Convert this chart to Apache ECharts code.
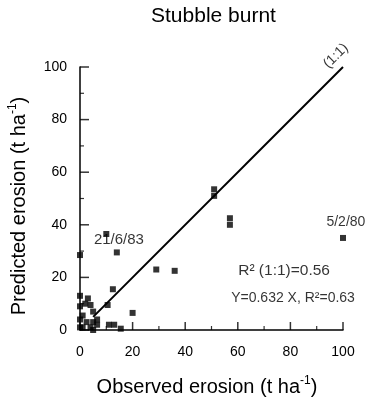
<!DOCTYPE html>
<html>
<head>
<meta charset="utf-8">
<script src="https://cdn.jsdelivr.net/npm/echarts@6/dist/echarts.min.js"></script>
<style>
  html, body { margin: 0; padding: 0; background: #fff; }
  #chart { width: 369px; height: 406px; }
</style>
</head>
<body>
<div id="chart"></div>
<script>
// observed vs predicted erosion, t/ha
const observed = [0, 10, 14, 29, 36, 12.5, 10.5, 20, 51, 51, 57, 57, 100, 11, 13, 15.5,
  0, 3, 0, 4, 5, 1, 0, 2.5, 5, 1, 4, 6.5, 5, 6.5, 0, 2];
const predicted = [28.5, 36.5, 29.5, 23, 22.5, 15.5, 9.5, 6.5, 53.5, 51, 42.5, 40, 35, 2, 2, 0.5,
  13, 12, 9, 9.5, 7, 5.5, 4, 3, 3, 1, 1, 4, 0, 2, 1, 10];
const oneToOneX = [5, 100];
const oneToOneY = [5, 100];
const axisTicks = [0, 20, 40, 60, 80, 100];
const minorTicks = [10, 30, 50, 70, 90];

const font = '"Liberation Sans", Arial, Helvetica, sans-serif';
const points = observed.map((x, i) => [x, predicted[i]]);

const myChart = echarts.init(document.getElementById('chart'));

const axisCommon = {
  type: 'value',
  min: axisTicks[0],
  max: axisTicks[axisTicks.length - 1],
  interval: 20,
  splitLine: { show: false },
  axisLine: { show: true, onZero: false, lineStyle: { color: '#000', width: 1.5 } },
  axisTick: { show: false },
  axisLabel: { color: '#000', fontSize: 14, fontFamily: font }
};

// inward tick marks drawn as thin rect symbols sitting on the axes
const tickMarks = [];
axisTicks.forEach(v => {
  tickMarks.push({ value: [v, 0], symbolSize: [1.5, 8], symbolOffset: [0, -4] });
  tickMarks.push({ value: [0, v], symbolSize: [9, 1.5], symbolOffset: [4.5, 0] });
});
minorTicks.forEach(v => {
  tickMarks.push({ value: [v, 0], symbolSize: [1.2, 4], symbolOffset: [0, -2] });
  tickMarks.push({ value: [0, v], symbolSize: [4, 1.2], symbolOffset: [2, 0] });
});

// axis titles drawn as graphic text (superscript via rich)
const nameStyle = {
  fill: '#000',
  fontSize: 20,
  fontFamily: font,
  lineHeight: 24,
  align: 'center',
  verticalAlign: 'middle',
  rich: {
    sup: { fontSize: 12, fontFamily: font, fill: '#000', verticalAlign: 'top', lineHeight: 12 }
  }
};

const option = {
  animation: false,
  title: {
    text: 'Stubble burnt',
    left: 151,
    top: 6,
    padding: 0,
    textStyle: { color: '#000', fontSize: 21, fontWeight: 'normal', fontFamily: font }
  },
  grid: {
    left: 80,
    right: 26,
    top: 67,
    bottom: 76
  },
  xAxis: Object.assign({}, axisCommon, {
    axisLabel: Object.assign({}, axisCommon.axisLabel, { margin: 15 })
  }),
  yAxis: Object.assign({}, axisCommon, {
    axisLabel: Object.assign({}, axisCommon.axisLabel, { margin: 13 })
  }),
  graphic: [
    {
      type: 'text',
      x: 207,
      y: 387,
      style: Object.assign({ text: 'Observed erosion (t ha{sup|-1})' }, nameStyle)
    },
    {
      type: 'text',
      x: 19,
      y: 206,
      rotation: Math.PI / 2,
      style: Object.assign({ text: 'Predicted erosion (t ha{sup|-1})' }, nameStyle)
    }
  ],
  series: [
    {
      // tick marks
      type: 'scatter',
      symbol: 'rect',
      clip: false,
      silent: true,
      itemStyle: { color: '#000' },
      data: tickMarks,
      z: 1
    },
    {
      type: 'line',
      data: oneToOneX.map((x, i) => [x, oneToOneY[i]]),
      symbol: 'none',
      lineStyle: { color: '#000', width: 2 },
      z: 2
    },
    {
      type: 'scatter',
      data: points,
      symbol: 'rect',
      symbolSize: 6,
      itemStyle: { color: '#000' },
      z: 3
    },
    {
      // text notes
      type: 'scatter',
      symbolSize: 0,
      clip: false,
      silent: true,
      label: {
        show: true,
        position: 'inside',
        color: '#000',
        fontSize: 14,
        fontFamily: font,
        formatter: p => p.name
      },
      data: [
        { name: '21/6/83', value: [14.8, 34.2], label: { fontSize: 15 } },
        { name: '5/2/80', value: [101.1, 41.1] },
        { name: 'R² (1:1)=0.56', value: [77.6, 22.6], label: { fontSize: 15.5 } },
        { name: 'Y=0.632 X, R²=0.63', value: [81, 12] },
        { name: '(1:1)', value: [97.3, 104.2], label: { rotate: 45 } }
      ]
    }
  ]
};

option && myChart.setOption(option);
</script>
</body>
</html>
